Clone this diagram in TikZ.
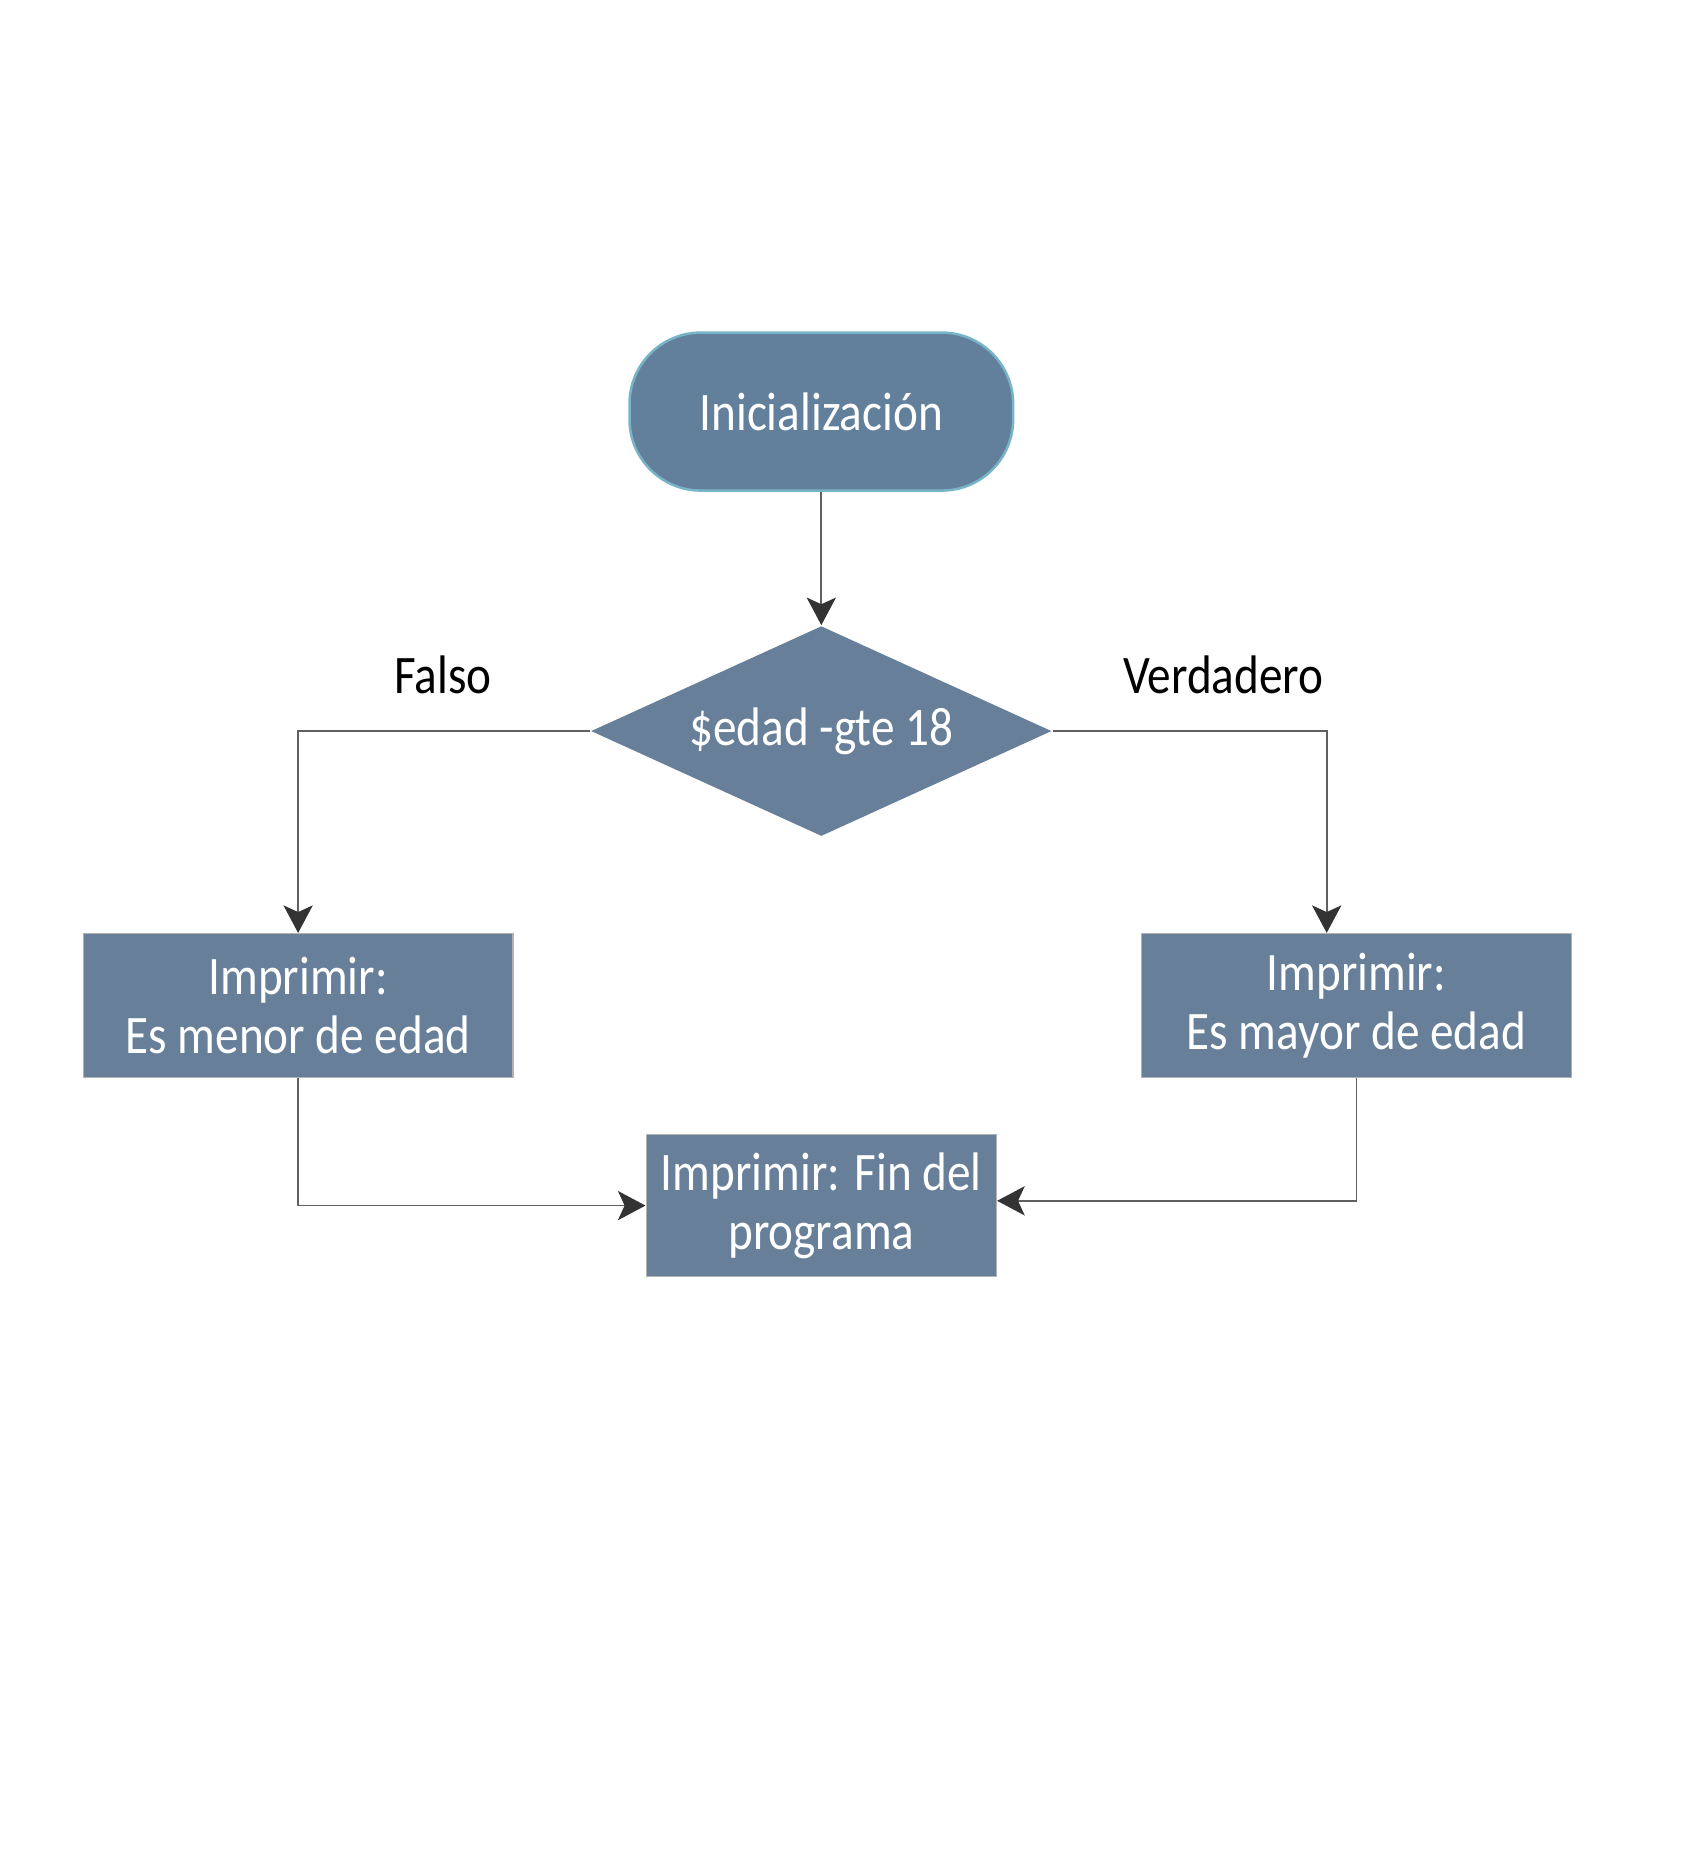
\documentclass[tikz,border=0pt]{standalone}
\usepackage{fontspec}
\setmainfont{Carlito}[FakeStretch=0.87]
\usetikzlibrary{arrows.meta, positioning, shapes.geometric}

\definecolor{slate}{HTML}{677F99}
\definecolor{slateend}{HTML}{62809C}
\definecolor{tealedge}{HTML}{78B4C8}
\definecolor{flowgray}{HTML}{606060}

\begin{document}
\begin{tikzpicture}[
      font=\fontsize{13}{14.2}\selectfont,
      terminal/.style={rectangle, rounded corners=0.6cm, draw=tealedge, line width=0.6pt, fill=slateend, text=white, minimum width=3.23cm, minimum height=1.33cm},
      decision/.style={diamond, aspect=2.2, fill=slate, text=white, inner sep=0pt, minimum width=3.88cm, minimum height=1.77cm},
      box/.style={rectangle, draw=gray!60, line width=0.3pt, fill=slate, text=white, align=center, minimum width=3.62cm, minimum height=1.21cm},
      flow/.style={draw=flowgray, line width=0.4pt, -{Stealth[length=6.6pt, width=7pt, inset=1.6pt, color=black!80]}},
      lbl/.style={text=black}
    ]

    \useasboundingbox (0,0) rectangle (14.19,-15.66);

    % Start and test
    \node[terminal] (init) at (6.915,-3.465) {Inicialización};
    \node[decision] (cond) at (6.915,-6.155) {\$edad -gte 18};

    % Branches
    \node[box] (menor) at (2.51,-8.465) {Imprimir:\\Es menor de edad};
    \node[box] (mayor) at (11.42,-8.465) {Imprimir:\\Es mayor de edad};
    \node[box, inner xsep=2pt, minimum width=2.95cm, minimum height=1.20cm] (fin) at (6.915,-10.15) {Imprimir: Fin del\\programa};

    % Labels
    \node[lbl] (falso) at (3.73,-5.68) {Falso};
    \node[lbl] (verdad) at (10.30,-5.68) {Verdadero};

    % Connections
    \draw[flow] (init) -- (cond);
    \draw[flow] (cond.west) -| (menor.north);
    \draw[flow] (cond.east) -| ([xshift=-0.25cm]mayor.north);
    \draw[flow] (menor.south) |- (fin.west);
    \draw[flow] (mayor.south) |- ([yshift=0.04cm]fin.east);

\end{tikzpicture}
\end{document}
